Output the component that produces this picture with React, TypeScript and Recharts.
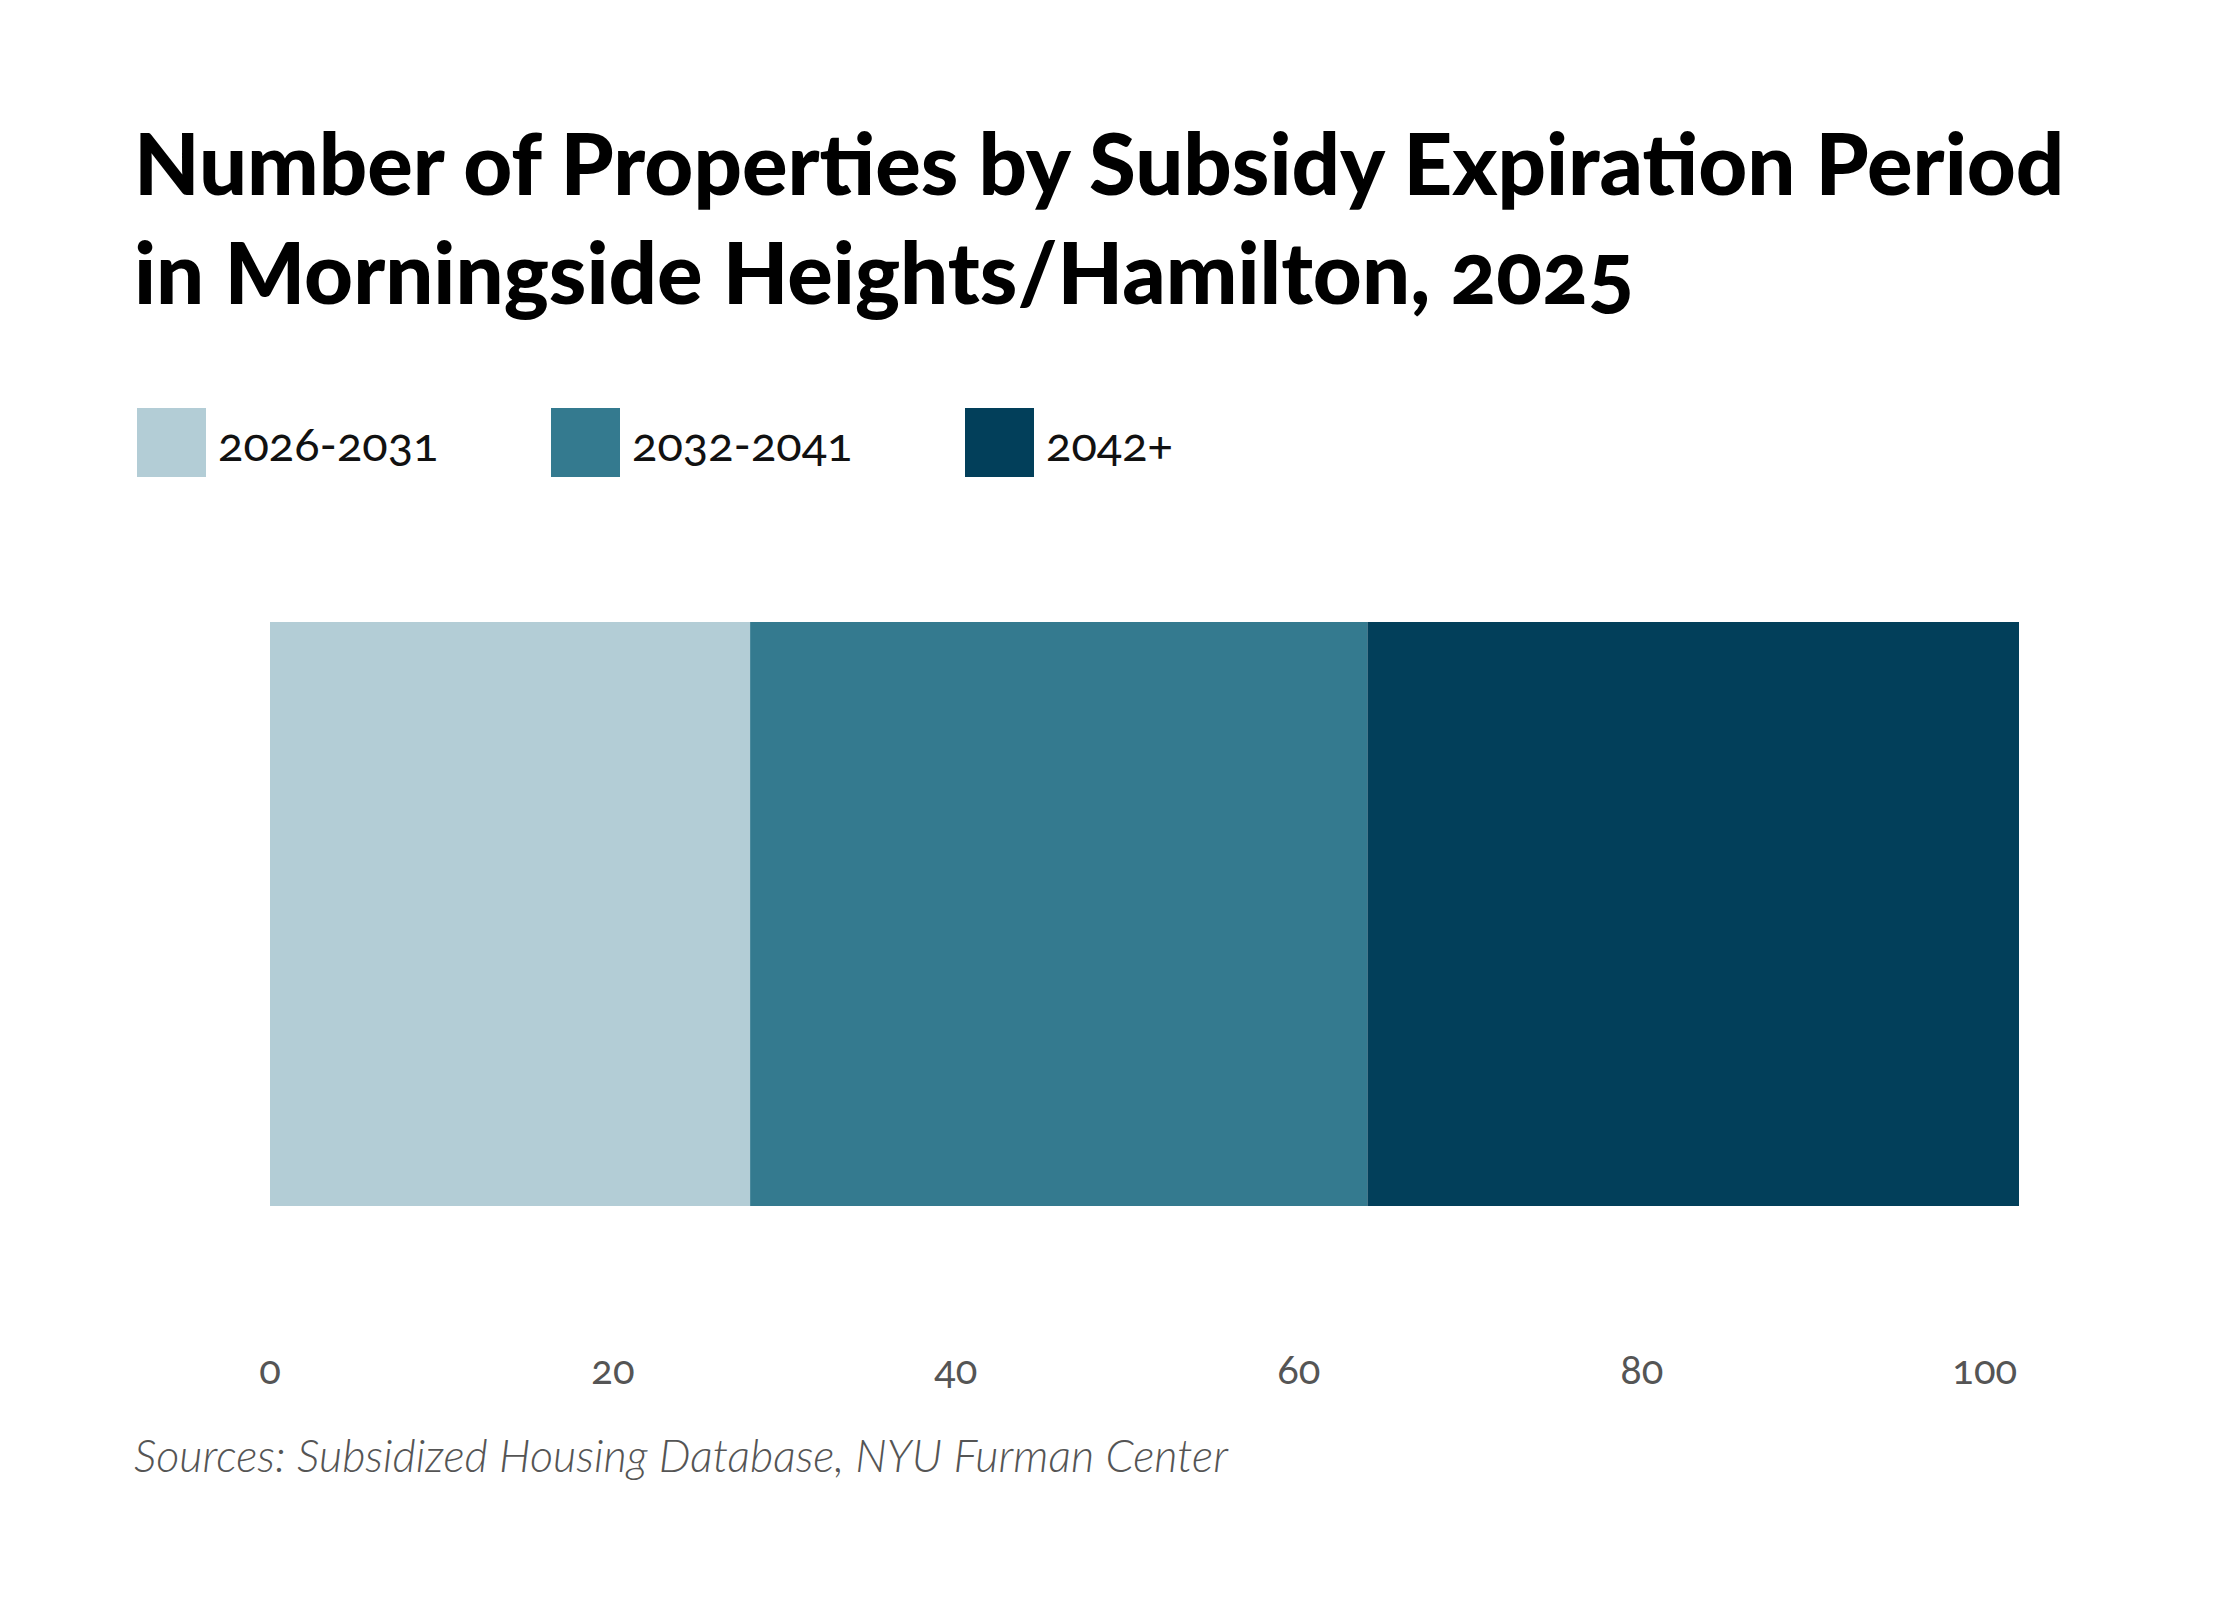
import { BarChart, Bar, XAxis, YAxis } from "recharts";

const categories = ["Morningside Heights/Hamilton"];
const seriesNames = ["2026-2031", "2032-2041", "2042+"];
const earlyValues = [28];
const midValues = [36];
const lateValues = [38];
const tickValues = [0, 20, 40, 60, 80, 100];

const COLORS = ["#b3cdd6", "#347a8f", "#023f5a"];

const data = categories.map((name, i) => ({
  name,
  a: earlyValues[i],
  b: midValues[i],
  c: lateValues[i],
}));

const FONT = "Lato, 'Open Sans', sans-serif";

export default function App() {
  return (
    <div
      style={{
        position: "relative",
        width: 2240,
        height: 1600,
        margin: -8,
        background: "#ffffff",
        fontFamily: FONT,
        fontVariantNumeric: "oldstyle-nums",
      }}
    >
      <div
        style={{
          position: "absolute",
          left: 134,
          top: 108,
          fontSize: 85,
          fontWeight: 900,
          lineHeight: "109px",
          color: "#000",
        }}
      >
        Number of Properties by Subsidy Expiration Period
        <br />
        in Morningside Heights/Hamilton, 2025
      </div>

      <div
        style={{
          position: "absolute",
          left: 137,
          top: 408,
          display: "flex",
          alignItems: "center",
        }}
      >
        {seriesNames.map((s, i) => (
          <div
            key={s}
            style={{ display: "flex", alignItems: "center", width: 414 }}
          >
            <div style={{ width: 69, height: 69, background: COLORS[i] }} />
            <span style={{ fontSize: 47, marginLeft: 12, color: "#111" }}>
              {s}
            </span>
          </div>
        ))}
      </div>

      <div style={{ position: "absolute", left: 0, top: 0 }}>
        <BarChart
          width={2240}
          height={1600}
          data={data}
          layout="vertical"
          barCategoryGap={0}
          margin={{ top: 622, right: 221, bottom: 194, left: 270 }}
        >
          <XAxis
            type="number"
            domain={[0, 102]}
            ticks={tickValues}
            axisLine={false}
            tickLine={false}
            tickSize={0}
            tickMargin={150}
            height={200}
            tick={{ fontSize: 40, fill: "#555", fontFamily: FONT }}
          />
          <YAxis type="category" dataKey="name" hide />
          <Bar dataKey="a" stackId="s" fill={COLORS[0]} isAnimationActive={false} />
          <Bar dataKey="b" stackId="s" fill={COLORS[1]} isAnimationActive={false} />
          <Bar dataKey="c" stackId="s" fill={COLORS[2]} isAnimationActive={false} />
        </BarChart>
      </div>

      <div
        style={{
          position: "absolute",
          left: 134,
          top: 1428,
          fontSize: 45,
          fontStyle: "italic",
          fontWeight: 300,
          color: "#555",
        }}
      >
        Sources: Subsidized Housing Database, NYU Furman Center
      </div>
    </div>
  );
}
